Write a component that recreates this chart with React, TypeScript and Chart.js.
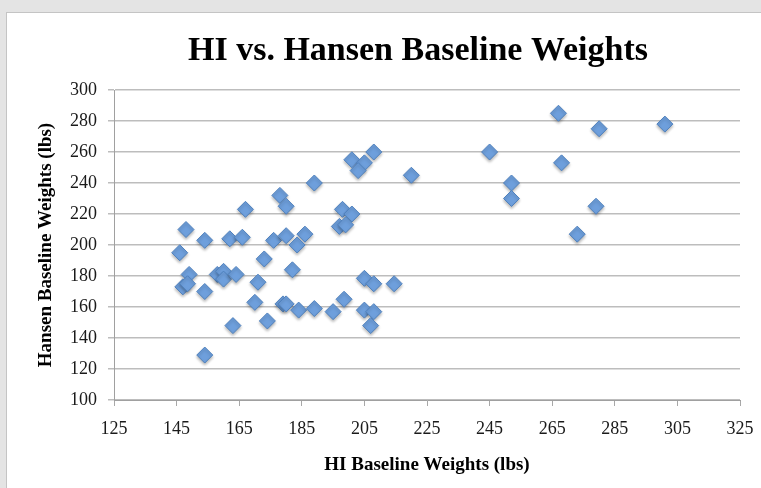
import React, { useEffect, useRef } from "react";
import { Chart, registerables } from "chart.js";

Chart.register(...registerables);

const chartTitle = "HI vs. Hansen Baseline Weights";
const xAxisTitle = "HI Baseline Weights (lbs)";
const yAxisTitle = "Hansen Baseline Weights (lbs)";

const xTickValues = [125, 145, 165, 185, 205, 225, 245, 265, 285, 305, 325];
const yTickValues = [100, 120, 140, 160, 180, 200, 220, 240, 260, 280, 300];

const hiWeights = [
  189, 178, 180, 167, 148, 154, 162, 166, 176, 180, 186, 183.5, 146, 173, 182,
  149, 147, 148.5, 158, 160, 160, 164, 171, 154, 170, 179, 180, 184, 189, 174,
  163, 154, 208, 201, 205, 203, 220, 245, 198, 201, 197, 199, 205, 208, 214.5,
  195, 198.5, 205, 208, 207, 267, 280, 301, 268, 252, 252, 279, 273,
];
const hansenWeights = [
  240, 232, 225, 223, 210, 203, 204, 205, 203, 206, 207, 200, 195, 191, 184,
  181, 173, 175, 181, 183, 178, 181, 176, 170, 163, 162, 162, 158, 159, 151,
  148, 129, 260, 255, 253, 248, 245, 260, 223, 220, 212, 213, 178.5, 175, 175,
  157, 165, 158, 157, 148, 285, 275, 278, 253, 240, 230, 225, 207,
];

const SERIF = '"Liberation Serif", "Times New Roman", serif';

const shadowPlugin = {
  id: "markerShadow",
  beforeDatasetDraw(chart: any) {
    const ctx = chart.ctx;
    ctx.save();
    ctx.shadowColor = "rgba(0,0,0,0.28)";
    ctx.shadowBlur = 3;
    ctx.shadowOffsetX = 0;
    ctx.shadowOffsetY = 2;
  },
  afterDatasetDraw(chart: any) {
    chart.ctx.restore();
  },
};

export default function App() {
  const canvasRef = useRef<HTMLCanvasElement | null>(null);

  useEffect(() => {
    if (!canvasRef.current) return;
    const points = hiWeights.map((x, i) => ({ x, y: hansenWeights[i] }));
    const chart = new Chart(canvasRef.current, {
      type: "scatter",
      data: {
        datasets: [
          {
            label: "Hansen vs HI",
            data: points,
            pointStyle: "rectRot",
            pointRadius: 8,
            pointHoverRadius: 8,
            backgroundColor: "#6e9fdc",
            borderColor: "#4f81bd",
            borderWidth: 1,
            clip: false,
          } as any,
        ],
      },
      plugins: [shadowPlugin],
      options: {
        animation: false,
        responsive: false,
        events: [],
        layout: { padding: { left: 96, right: 21, top: 0, bottom: 0 } },
        plugins: {
          legend: { display: false },
          tooltip: { enabled: false },
          title: {
            display: true,
            text: chartTitle,
            color: "#000",
            font: { family: SERIF, size: 34, weight: "bold" },
            padding: { top: 31, bottom: 18.2 },
          },
        },
        scales: {
          x: {
            type: "linear",
            min: 125,
            max: 325,
            afterBuildTicks: (s: any) => {
              s.ticks = xTickValues.map((v) => ({ value: v }));
            },
            afterFit: (s: any) => {
              s.height = 88;
              s.paddingLeft = 0;
              s.paddingRight = 0;
            },
            ticks: {
              color: "#1a1a1a",
              font: { family: SERIF, size: 18 },
              padding: 12,
              maxRotation: 0,
              autoSkip: false,
            },
            grid: {
              drawOnChartArea: false,
              drawTicks: true,
              tickLength: 6,
              color: "#a8a8a8",
            },
            border: { display: true, color: "#a0a0a0", width: 1 },
            title: {
              display: true,
              text: xAxisTitle,
              color: "#000",
              font: { family: SERIF, size: 19, weight: "bold" },
              padding: { top: 0, bottom: 12 },
            },
          },
          y: {
            type: "linear",
            min: 100,
            max: 300,
            afterBuildTicks: (s: any) => {
              s.ticks = yTickValues.map((v) => ({ value: v }));
            },
            afterFit: (s: any) => {
              s.width = 18;
              s.paddingTop = 0;
              s.paddingBottom = 0;
              // labels sit left of this narrow scale box; do not clip them
              s._computeLabelArea = () => undefined;
            },
            ticks: {
              color: "#1a1a1a",
              font: { family: SERIF, size: 18 },
              padding: 11,
              autoSkip: false,
            },
            grid: {
              drawTicks: true,
              tickLength: 6,
              color: "#bdbdbd",
              lineWidth: 1.5,
            },
            border: { display: true, color: "#a0a0a0", width: 1 },
            title: {
              display: true,
              text: yAxisTitle,
              color: "#000",
              font: { family: SERIF, size: 19, weight: "bold" },
              padding: { top: -61.4, bottom: 0 },
            },
          },
        },
      } as any,
    });
    return () => chart.destroy();
  }, []);

  return (
    <div
      style={{
        position: "fixed",
        left: 0,
        top: 0,
        width: 761,
        height: 488,
        background: "#e4e4e4",
        overflow: "hidden",
      }}
    >
      <div
        style={{
          position: "absolute",
          left: 6,
          top: 12,
          width: 770,
          height: 490,
          background: "#ffffff",
          border: "1px solid #c4c4c4",
        }}
      />
      <canvas
        ref={canvasRef}
        width={761}
        height={488}
        style={{ position: "absolute", left: 0, top: 0, width: 761, height: 488 }}
      />
    </div>
  );
}
